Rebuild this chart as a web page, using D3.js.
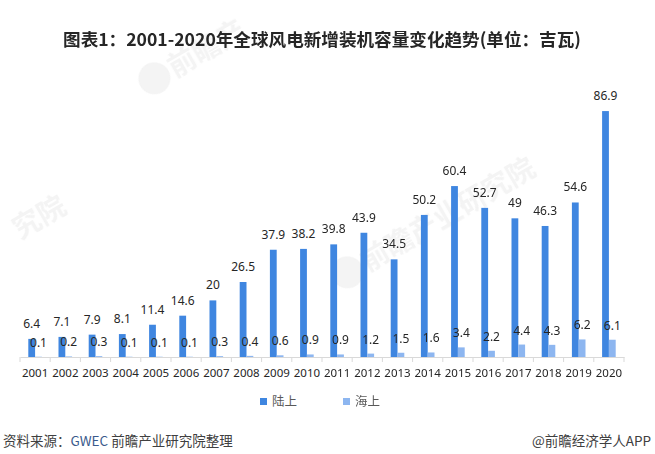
<!DOCTYPE html>
<html>
<head>
<meta charset="utf-8">
<script src="https://cdn.jsdelivr.net/npm/d3@7"></script>
<style>
  body { margin: 0; background: #fff; }
  svg { display: block; font-family: "Noto Sans", "Noto Sans CJK SC", sans-serif; }
</style>
</head>
<body>
<div id="chart"></div>
<script>
// data (unit: GW)
var years = ['2001','2002','2003','2004','2005','2006','2007','2008','2009','2010',
             '2011','2012','2013','2014','2015','2016','2017','2018','2019','2020'];
var onshore = [6.4, 7.1, 7.9, 8.1, 11.4, 14.6, 20, 26.5, 37.9, 38.2,
               39.8, 43.9, 34.5, 50.2, 60.4, 52.7, 49, 46.3, 54.6, 86.9];
var offshore = [0.1, 0.2, 0.3, 0.1, 0.1, 0.1, 0.3, 0.4, 0.6, 0.9,
                0.9, 1.2, 1.5, 1.6, 3.4, 2.2, 4.4, 4.3, 6.2, 6.1];
var seriesNames = ['陆上', '海上'];

var svgWidth = 655, svgHeight = 454;
var colors = ['#3f86e0', '#8db6f0'];

var svg = d3.select('#chart').append('svg')
    .attr('width', svgWidth).attr('height', svgHeight);

// faint watermark (only the visible parts)
var wm = svg.append('g').attr('fill', '#d0d0d0').attr('opacity', 0.25)
    .style('font-family', '"Noto Sans CJK SC", sans-serif').style('font-weight', 'bold');
[[175, 78, '前瞻产', true], [368, 272, '前瞻产业研究院', true], [20, 240, '究院', false]].forEach(function(p) {
  var g = wm.append('g').attr('transform', 'translate(' + p[0] + ',' + p[1] + ') rotate(-30)');
  if (p[3]) g.append('circle').attr('cx', -18).attr('cy', -10).attr('r', 16);
  g.append('text').attr('font-size', 28).text(p[2]);
});

// title
svg.append('text')
    .attr('x', 322).attr('y', 46)
    .attr('text-anchor', 'middle')
    .attr('font-size', 17.6)
    .attr('font-weight', 'bold')
    .attr('fill', '#262626')
    .style('font-family', '"Noto Sans CJK SC", sans-serif')
    .text('图表1：2001-2020年全球风电新增装机容量变化趋势(单位：吉瓦)');

var x = d3.scaleBand().domain(years).range([20, 624]).padding(0);
var y = d3.scaleLinear().domain([0, 100]).range([357, 74]);
var barW = 6.8;

// bars
var groups = svg.append('g').selectAll('g')
    .data(years).enter().append('g')
    .attr('transform', function(d) { return 'translate(' + (x(d) + x.bandwidth() / 2) + ',0)'; });

groups.append('rect')
    .attr('x', -barW).attr('width', barW)
    .attr('y', function(d, i) { return y(onshore[i]); })
    .attr('height', function(d, i) { return y(0) - y(onshore[i]); })
    .attr('fill', colors[0]);

groups.append('rect')
    .attr('x', 0).attr('width', barW)
    .attr('y', function(d, i) { return y(offshore[i]); })
    .attr('height', function(d, i) { return y(0) - y(offshore[i]); })
    .attr('fill', colors[1]);

// value labels
groups.append('text')
    .attr('x', -barW / 2)
    .attr('y', function(d, i) { return y(onshore[i]) - 11; })
    .attr('text-anchor', 'middle').attr('font-size', 12).attr('fill', '#262626')
    .text(function(d, i) { return onshore[i]; });

groups.append('text')
    .attr('x', barW / 2)
    .attr('y', function(d, i) { return y(offshore[i]) - 10; })
    .attr('text-anchor', 'middle').attr('font-size', 12).attr('fill', '#262626')
    .text(function(d, i) { return offshore[i]; });

// x axis
var xAxis = svg.append('g')
    .attr('transform', 'translate(0,' + y(0) + ')')
    .call(d3.axisBottom(x).tickSize(0).tickPadding(12));
xAxis.select('.domain').attr('stroke', '#d9d9d9');
xAxis.selectAll('text').attr('font-size', 11.5).attr('fill', '#262626')
    .style('font-family', '"Noto Sans", sans-serif');
// tick marks between categories
xAxis.selectAll('line.sep')
    .data(years.concat(['end'])).enter().append('line')
    .attr('class', 'sep')
    .attr('x1', function(d, i) { return i < years.length ? x(d) : x.range()[1]; })
    .attr('x2', function(d, i) { return i < years.length ? x(d) : x.range()[1]; })
    .attr('y1', 0).attr('y2', 5)
    .attr('stroke', '#d9d9d9');

// legend
var legendX = [260, 343];
var legend = svg.append('g').selectAll('g')
    .data(seriesNames).enter().append('g')
    .attr('transform', function(d, i) { return 'translate(' + legendX[i] + ',398)'; });
legend.append('rect').attr('width', 7).attr('height', 7)
    .attr('fill', function(d, i) { return colors[i]; });
legend.append('text').attr('x', 12).attr('y', 8)
    .attr('font-size', 12.5).attr('fill', '#595959')
    .style('font-family', '"Noto Sans CJK SC", sans-serif')
    .text(function(d) { return d; });

// footer
var src = svg.append('text')
    .attr('x', 3).attr('y', 446)
    .attr('font-size', 13.5).attr('fill', '#404040')
    .style('font-family', '"Noto Sans CJK SC", sans-serif');
src.append('tspan').text('资料来源：');
src.append('tspan').attr('fill', '#3a5a8c').text('GWEC');
src.append('tspan').text(' 前瞻产业研究院整理');

svg.append('text')
    .attr('x', 651).attr('y', 446)
    .attr('text-anchor', 'end')
    .attr('font-size', 13.5).attr('fill', '#404040')
    .style('font-family', '"Noto Sans CJK SC", sans-serif')
    .text('@前瞻经济学人APP');
</script>
</body>
</html>
